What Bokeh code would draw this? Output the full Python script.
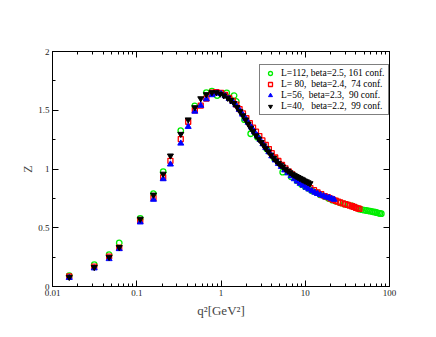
from bokeh.plotting import figure
from bokeh.models import (LogAxis, LinearAxis, FixedTicker, CustomJSTickFormatter,
                          CustomLabelingPolicy, Legend, LegendItem)
from bokeh.embed import file_html
from bokeh.resources import INLINE

# ---------------- data ----------------
labels = ["L=112, beta=2.5, 161 conf.",
          "L= 80,  beta=2.4,  74 conf.",
          "L=56,  beta=2.3,  90 conf.",
          "L=40,   beta=2.2,  99 conf."]

green_q2 = [0.0158, 0.0313, 0.047, 0.062, 0.11, 0.158, 0.206, 0.333, 0.489, 0.67, 0.78,
            0.9, 1.17, 1.43, 1.52, 1.9, 2.25, 2.7, 3.5, 4.3, 5.4, 6.8, 8.0, 9.0, 10.0,
            11.0, 12.0, 13.5, 15.0, 17.0, 19.0, 21.0, 23.0, 26.0, 29.0, 32.0, 36.0,
            40.0, 44.0, 47.0, 50.0, 53.0, 56.0, 59.0, 62.0, 65.0, 68.0, 71.0, 74.0, 77.0, 80.0]
green_z = [0.092, 0.187, 0.272, 0.371, 0.58, 0.79, 0.977, 1.326, 1.538, 1.65, 1.662,
           1.625, 1.648, 1.625, 1.575, 1.42, 1.30, 1.27, 1.17, 1.09, 0.973, 0.935, 0.9, 0.87, 0.85,
           0.835, 0.815, 0.8, 0.78, 0.765, 0.75, 0.735, 0.725, 0.712, 0.702, 0.695, 0.685,
           0.672, 0.658, 0.654, 0.65, 0.647, 0.644, 0.641, 0.638, 0.635, 0.632, 0.628, 0.625, 0.622, 0.62]

red_q2 = [0.0158, 0.0313, 0.047, 0.062, 0.11, 0.158, 0.206, 0.251, 0.333, 0.408, 0.489,
          0.575, 0.67, 0.78, 0.88, 1.0, 1.12, 1.25, 1.38, 1.52, 1.66, 1.82, 2.0, 2.2, 2.4,
          2.6, 2.85, 3.1, 3.4, 3.7, 4.0, 4.4, 4.8, 5.3, 5.8, 6.4, 7.0, 7.8, 8.6, 9.5, 10.5,
          11.5, 12.7, 14.0, 15.5, 17.0, 18.5, 20.0, 21.5, 23.0, 24.5, 26.0, 28.0, 30.0,
          32.0, 34.0, 36.0, 38.0, 40.0, 42.0, 44.0]
red_z = [0.085, 0.17, 0.255, 0.33, 0.56, 0.754, 0.93, 1.07, 1.255, 1.402, 1.50,
         1.54, 1.60, 1.65, 1.655, 1.648, 1.63, 1.605, 1.58, 1.548, 1.51, 1.473, 1.432, 1.39, 1.352,
         1.318, 1.28, 1.243, 1.205, 1.17, 1.135, 1.098, 1.068, 1.035, 1.006, 0.978, 0.953, 0.925, 0.9, 0.876, 0.856,
         0.838, 0.82, 0.8, 0.785, 0.77, 0.76, 0.748, 0.738, 0.73, 0.722, 0.715, 0.707, 0.7,
         0.694, 0.688, 0.683, 0.677, 0.67, 0.665, 0.66]

blue_q2 = [0.0158, 0.0313, 0.047, 0.062, 0.11, 0.158, 0.206, 0.251, 0.333, 0.408, 0.489,
           0.575, 0.67, 0.78, 0.9, 1.0, 1.12, 1.25, 1.38, 1.5, 1.65, 1.8, 1.95, 2.1, 2.3,
           2.5, 2.7, 2.9, 3.15, 3.4, 3.7, 4.0, 4.4, 4.8, 5.2, 5.7, 6.2, 6.8, 7.4, 8.0, 8.7,
           9.4, 10.2, 11.0, 12.0, 13.0, 14.0, 15.2, 16.5, 17.8, 19.2, 20.5, 22.0]
blue_z = [0.075, 0.156, 0.235, 0.32, 0.547, 0.74, 0.915, 1.04, 1.218, 1.36, 1.49,
          1.54, 1.595, 1.63, 1.645, 1.64, 1.622, 1.598, 1.572, 1.545, 1.505, 1.465, 1.43, 1.395, 1.355,
          1.315, 1.283, 1.25, 1.213, 1.18, 1.145, 1.11, 1.075, 1.045, 1.02, 0.99, 0.965, 0.94, 0.915, 0.895, 0.876,
          0.86, 0.843, 0.828, 0.813, 0.8, 0.79, 0.78, 0.77, 0.76, 0.755, 0.748, 0.74]

black_q2 = [0.0158, 0.0313, 0.047, 0.062, 0.11, 0.158, 0.206, 0.251, 0.333, 0.408, 0.489,
            0.575, 0.67, 0.78, 0.88, 0.98, 1.08, 1.2, 1.3, 1.42, 1.55, 1.68, 1.82, 1.96,
            2.1, 2.25, 2.4, 2.6, 2.8, 3.0, 3.2, 3.4, 3.65, 3.9, 4.2, 4.5, 4.8, 5.1, 5.4,
            5.8, 6.2, 6.6, 7.0, 7.4, 7.8, 8.2, 8.6, 9.0, 9.4, 9.8, 10.3, 10.8, 11.4]
black_z = [0.08, 0.164, 0.25, 0.334, 0.575, 0.78, 0.958, 1.113, 1.297, 1.42, 1.524,
           1.6, 1.635, 1.652, 1.652, 1.64, 1.625, 1.605, 1.585, 1.56, 1.525, 1.49, 1.455, 1.42,
           1.385, 1.35, 1.32, 1.285, 1.255, 1.228, 1.2, 1.175, 1.148, 1.12, 1.093, 1.07, 1.05, 1.035, 1.02,
           1.0, 0.985, 0.97, 0.958, 0.948, 0.938, 0.93, 0.922, 0.915, 0.908, 0.9, 0.893, 0.885, 0.877]

x_ticks = [0.01, 0.1, 1, 10, 100]
x_minor = [m * d for d in (0.01, 0.1, 1, 10) for m in range(2, 10)]
y_ticks = [0, 0.5, 1, 1.5, 2]
y_minor = [0.25, 0.75, 1.25, 1.75]

SERIF = "Liberation Serif"

# ---------------- figure ----------------
p = figure(width=420, height=321, x_axis_type="log", x_range=(0.01, 100), y_range=(0, 2),
           output_backend="svg", toolbar_location=None,
           min_border_left=52, min_border_right=31, min_border_top=51, min_border_bottom=35)
p.xgrid.visible = False
p.ygrid.visible = False
p.outline_line_color = "black"
p.outline_line_width = 1
p.background_fill_color = "white"
p.border_fill_color = "white"

fmt = CustomJSTickFormatter(code="return tick.toString();")
no_labels = CustomLabelingPolicy(code="return new Set();")


def style_axis(ax, ticks, minor, show_labels):
    ax.ticker = FixedTicker(ticks=ticks, minor_ticks=minor)
    ax.formatter = fmt
    ax.axis_line_color = "black"
    ax.axis_line_width = 1
    ax.major_tick_in = 6
    ax.major_tick_out = 0
    ax.minor_tick_in = 3
    ax.minor_tick_out = 0
    ax.major_tick_line_color = "black"
    ax.minor_tick_line_color = "black"
    ax.major_label_text_font = SERIF
    ax.major_label_text_color = "#222222"
    ax.major_label_text_font_size = "9px"
    ax.major_label_standoff = 3
    if not show_labels:
        ax.major_label_policy = no_labels


style_axis(p.xaxis[0], x_ticks, x_minor, True)
style_axis(p.yaxis[0], y_ticks, y_minor, True)
p.xaxis[0].axis_label = "q²[GeV²]"
p.xaxis[0].axis_label_text_font = SERIF
p.xaxis[0].axis_label_text_font_style = "normal"
p.xaxis[0].axis_label_text_font_size = "13px"
p.xaxis[0].axis_label_standoff = 4
p.yaxis[0].axis_label = "Z"
p.yaxis[0].axis_label_text_font = SERIF
p.yaxis[0].axis_label_text_font_style = "normal"
p.yaxis[0].axis_label_text_font_size = "12px"
p.yaxis[0].axis_label_standoff = 0

top_ax = LogAxis()
style_axis(top_ax, x_ticks, x_minor, False)
p.add_layout(top_ax, "above")
right_ax = LinearAxis()
style_axis(right_ax, y_ticks, y_minor, False)
p.add_layout(right_ax, "right")

# ---------------- data glyphs ----------------
r_green = p.scatter(green_q2, green_z, marker="circle", size=5.5, fill_color=None,
                    line_color="#00ee00", line_width=1.3)
r_red = p.scatter(red_q2, red_z, marker="square", size=5, fill_color=None,
                  line_color="#ff0000", line_width=1.3)
r_blue = p.scatter(blue_q2, blue_z, marker="triangle", size=6, fill_color="#0000ff",
                   line_color="#0000ff", line_width=1)
r_black = p.scatter(black_q2, black_z, marker="inverted_triangle", size=6, fill_color="black",
                    line_color="black", line_width=1)

legend = Legend(items=[LegendItem(label=labels[0], renderers=[r_green]),
                       LegendItem(label=labels[1], renderers=[r_red]),
                       LegendItem(label=labels[2], renderers=[r_blue]),
                       LegendItem(label=labels[3], renderers=[r_black])],
                location=(207, 171))
legend.label_text_font = SERIF
legend.label_text_font_size = "9.5px"
legend.label_text_color = "black"
legend.border_line_color = "black"
legend.border_line_width = 1
legend.background_fill_color = "white"
legend.background_fill_alpha = 1
legend.glyph_height = 10
legend.glyph_width = 14
legend.label_height = 10
legend.label_standoff = 4
legend.spacing = 1
legend.padding = 3
legend.margin = 0
p.add_layout(legend, "center")

open("out.html", "w").write(file_html(p, INLINE))
